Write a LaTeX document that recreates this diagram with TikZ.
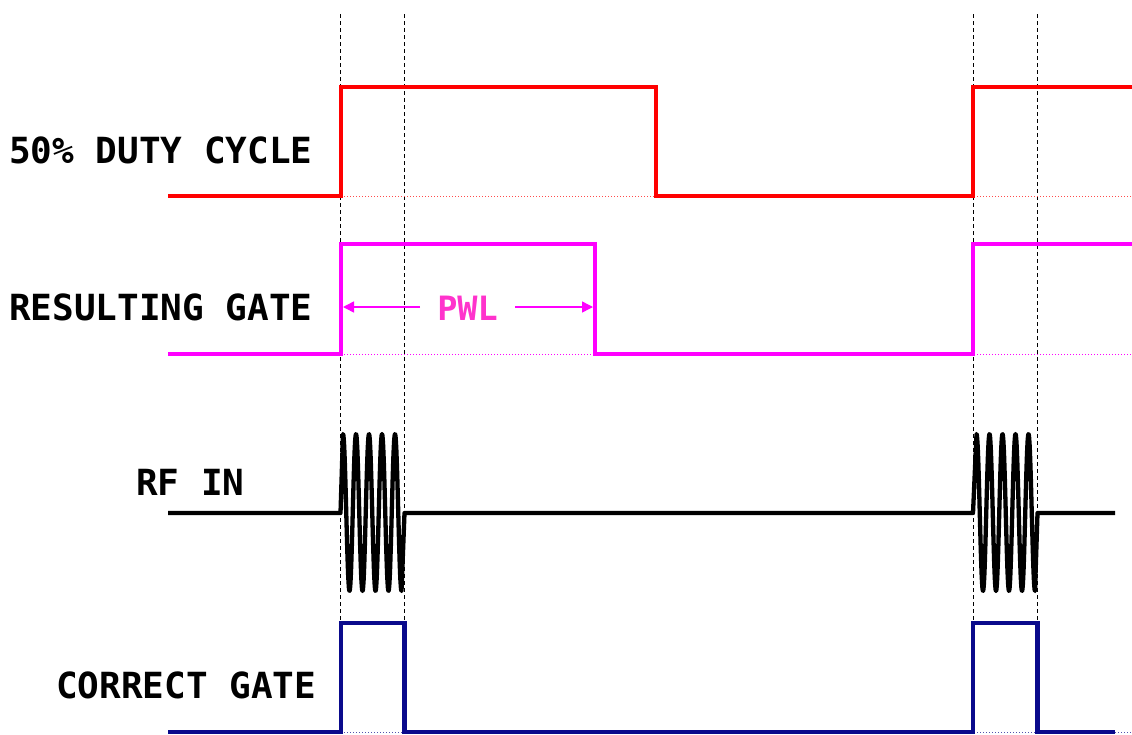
\documentclass[tikz,border=0pt]{standalone}
\usepackage{fontspec}
\setmonofont{DejaVu Sans Mono}
\usetikzlibrary{arrows.meta}
\definecolor{sigred}{RGB}{255,0,0}
\definecolor{sigmag}{RGB}{255,0,255}
\definecolor{pwltext}{RGB}{255,51,204}
\definecolor{sigblue}{RGB}{10,10,140}
\begin{document}
\begin{tikzpicture}[x=1pt,y=-1pt,
  lbl/.style={anchor=base west,inner sep=0pt,font=\fontsize{36}{40}\selectfont\ttfamily\bfseries},
  sig/.style={line width=4.3pt,line join=miter},
  guide/.style={line width=0.8pt,dash pattern=on 4pt off 3pt,black},
  base/.style={line width=1pt,dotted}]
\useasboundingbox (0,0) rectangle (1132,734);
% guide lines
\foreach \gx/\gn in {340.5/ga,404.5/gb,973/gc,1037.5/gd}{
  \coordinate (\gn t) at (\gx,14);
  \coordinate (\gn b) at (\gx,734);
  \draw[guide] (\gn t) -- (\gn b);
}
% labels
\node[lbl] (l1) at (9,163) {50\% DUTY CYCLE};
\node[lbl] (l2) at (9,320) {RESULTING GATE};
\node[lbl] (l3) at (136,495) {RF IN};
\node[lbl] (l4) at (56,698) {CORRECT GATE};
% red
\draw[base,sigred!70] (341,196) -- (1132,196);
\draw[sig,sigred] (168,196) -- (341,196) -- (341,87) -- (656,87) -- (656,196) -- (973,196) -- (973,87) -- (1132,87);
% magenta
\draw[base,sigmag] (341,354) -- (1132,354);
\draw[sig,sigmag] (168,354) -- (341,354) -- (341,244) -- (595,244) -- (595,354) -- (973,354) -- (973,244) -- (1132,244);
% PWL
\node[inner sep=0pt,anchor=base,text=pwltext,font=\fontsize{33.5}{38}\selectfont\ttfamily\bfseries] (pwl) at (467.5,320) {PWL};
\coordinate (pa) at (343,307);
\coordinate (pb) at (593,307);
\draw[sigmag,line width=1.5pt,-{Triangle[length=11pt,width=11pt]}] (420,307) -- (pa);
\draw[sigmag,line width=1.5pt,-{Triangle[length=11pt,width=11pt]}] (515,307) -- (pb);
% RF
\draw[sig,black,line join=round] (168,513) -- (340.5,513) -- (343,434)
  -- plot[domain=343:401.5,samples=160] (\x,{512.5-78.5*cos((\x-343)*27.6923)})
  -- (404.5,513) -- (973,513) -- (976.5,434)
  -- plot[domain=976.5:1035,samples=160] (\x,{512.5-78.5*cos((\x-976.5)*27.6923)})
  -- (1037.5,513) -- (1115,513);
% blue
\draw[base,sigblue!70] (341,732) -- (1132,732);
\draw[sig,sigblue] (168,732) -- (341,732) -- (341,623) -- (404.5,623) -- (404.5,732) -- (973,732) -- (973,623) -- (1037.5,623) -- (1037.5,732) -- (1115,732);
\end{tikzpicture}
\end{document}
